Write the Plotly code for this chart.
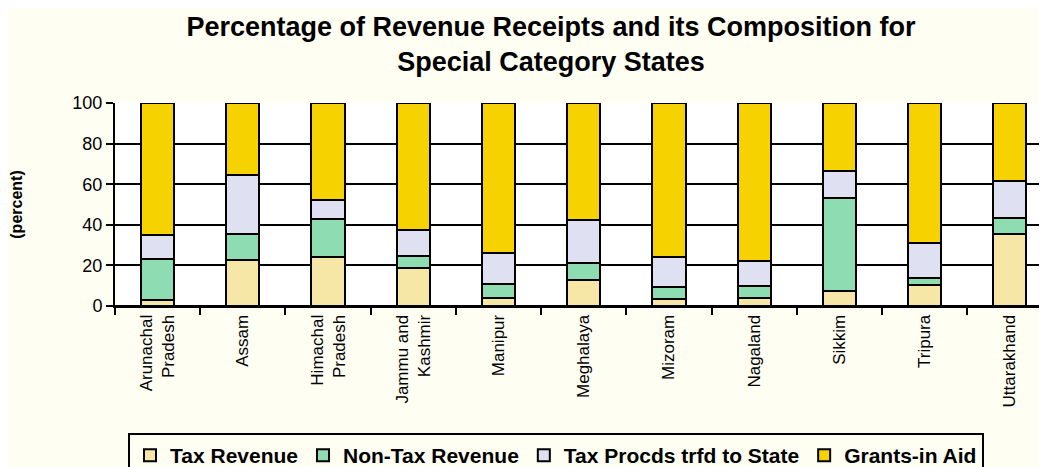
import plotly.graph_objects as go

states = ["Arunachal<br>Pradesh", "Assam", "Himachal<br>Pradesh", "Jammu and<br>Kashmir",
          "Manipur", "Meghalaya", "Mizoram", "Nagaland", "Sikkim", "Tripura", "Uttarakhand"]
tax_revenue = [3, 22.5, 24, 18.5, 4, 13, 3.5, 4, 7.5, 10.5, 35.5]
non_tax_revenue = [20, 13, 19, 6, 7, 8, 6, 6, 45.5, 3.5, 8]
tax_procds = [12, 29, 9, 13, 15, 21.5, 14.5, 12, 13.5, 17, 18]
grants_in_aid = [65, 35.5, 48, 62.5, 74, 57.5, 76, 78, 33.5, 69, 38.5]

series = [
    ("Tax Revenue", tax_revenue, "#f6e7a6"),
    ("Non-Tax Revenue", non_tax_revenue, "#8edcb1"),
    ("Tax Procds trfd to State", tax_procds, "#dfe1f2"),
    ("Grants-in Aid", grants_in_aid, "#f6d200"),
]

OFF = 8  # page body margin of the html page

fig = go.Figure()
for name, vals, col in series:
    fig.add_trace(go.Bar(x=states, y=vals, name="<b>" + name + "</b>", width=0.39,
                         marker=dict(color=col, line=dict(color="black", width=2))))

fig.update_layout(
    barmode="stack",
    width=1047, height=467,
    paper_bgcolor="#fffef3",
    plot_bgcolor="white",
    margin=dict(l=115 - OFF, r=0, t=103 - OFF, b=161 + OFF, autoexpand=False),
    font=dict(family="Liberation Sans, Arial", color="black"),
    title=dict(text="<b>Percentage of Revenue Receipts and its Composition for<br>Special Category States</b>",
               x=(551 - OFF) / 1047, xanchor="center", xref="container",
               y=1 - 28 / 467, yanchor="top", font=dict(size=27)),
    showlegend=True,
    legend=dict(orientation="h", xref="container", yref="container",
                x=(128 - OFF) / 1047, xanchor="left", y=1 - (433 - OFF) / 467, yanchor="top",
                bordercolor="black", borderwidth=2, bgcolor="#fffef3",
                font=dict(size=21, family="Liberation Sans, Arial"),
                itemwidth=30, tracegroupgap=0, traceorder="normal"),
)
fig.update_xaxes(
    type="category", range=[-0.5, 10.53], tickson="boundaries", automargin=False,
    ticks="outside", ticklen=7, tickwidth=2, tickcolor="black",
    showline=True, linecolor="black", linewidth=2,
    showgrid=False, tickangle=-90, tickfont=dict(size=17),
)
fig.update_yaxes(
    range=[0, 100], dtick=20, tick0=0, automargin=False,
    ticks="outside", ticklen=7, tickwidth=2, tickcolor="black",
    showline=True, linecolor="black", linewidth=2,
    showgrid=True, gridcolor="black", gridwidth=2,
    zeroline=True, zerolinecolor="black", zerolinewidth=2,
    tickfont=dict(size=18),
    title=dict(text="<b>(percent)</b>", font=dict(size=16), standoff=49),
)

fig.write_html("out.html")
